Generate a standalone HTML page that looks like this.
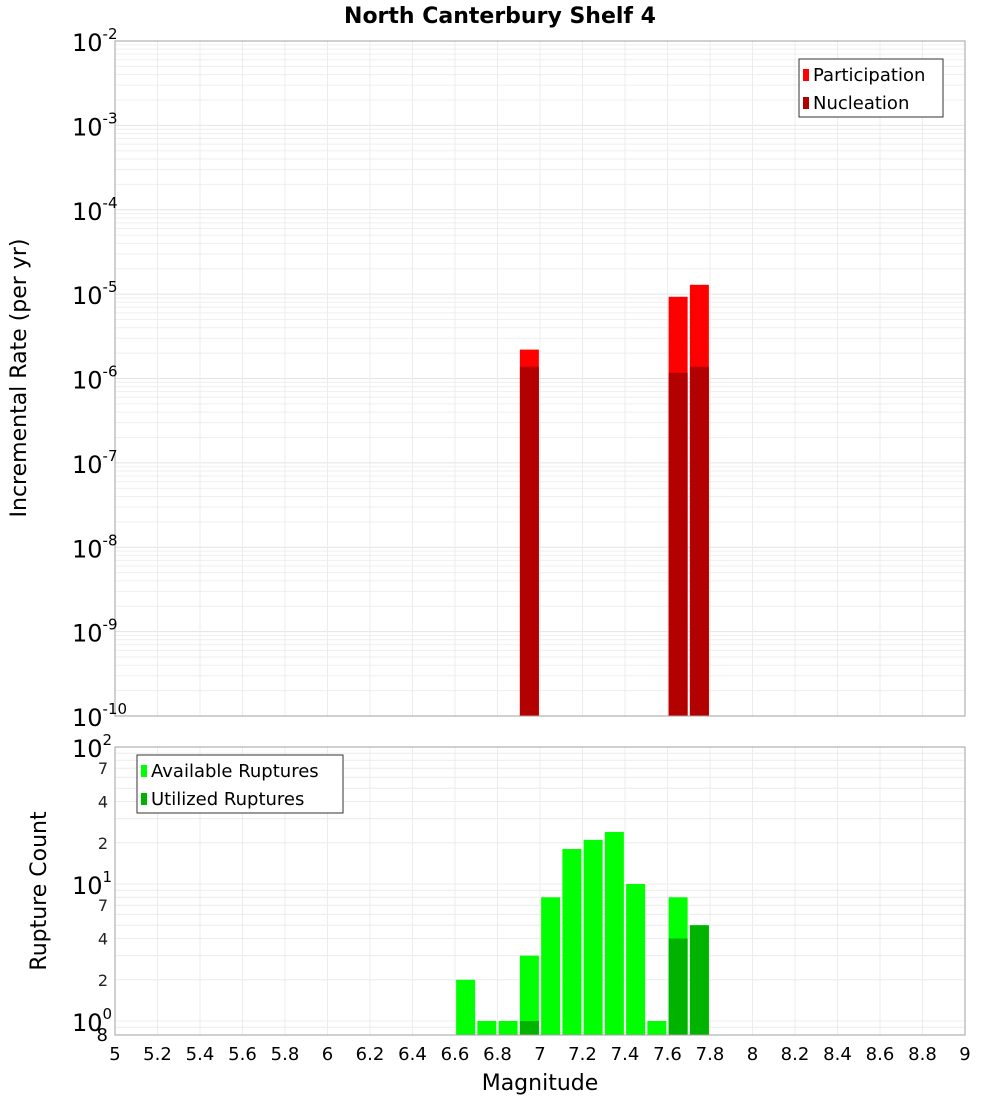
<!DOCTYPE html>
<html><head><meta charset="utf-8"><style>
body{margin:0;background:#fff;width:1000px;height:1100px;overflow:hidden;font-family:"Liberation Sans","DejaVu Sans",sans-serif}
svg text{font-family:"DejaVu Sans","Liberation Sans",sans-serif}
</style></head><body>
<svg id="c" width="1000" height="1100" xmlns="http://www.w3.org/2000/svg"></svg>
<script>
const mags=[6.65,6.75,6.85,6.95,7.05,7.15,7.25,7.35,7.45,7.55,7.65,7.75];
const rateMags=[6.95,7.65,7.75];
const participation=[2.2e-6,9.3e-6,1.29e-5];
const nucleation=[1.38e-6,1.17e-6,1.38e-6];
const available=[2,1,1,3,8,18,21,24,10,1,8,5];
const utilized=[0,0,0,1,0,0,0,0,0,0,4,5];
const xTicks=[5,5.2,5.4,5.6,5.8,6,6.2,6.4,6.6,6.8,7,7.2,7.4,7.6,7.8,8,8.2,8.4,8.6,8.8,9];
const topExps=[-2,-3,-4,-5,-6,-7,-8,-9,-10];
const botMinor=[2,4,7];

const S=document.getElementById('c'),NS='http://www.w3.org/2000/svg';
function el(t,a,txt){const e=document.createElementNS(NS,t);for(const k in a)e.setAttribute(k,a[k]);if(txt!==undefined)e.textContent=txt;S.appendChild(e);return e;}
const X0=115,X1=965;
const xs=m=>X0+(m-5)/4*(X1-X0);
const T0=41,T1=716;
const yT=v=>T0+(-2-Math.log10(v))/8*(T1-T0);
const B0=747,B1=1035,BD=137;
const yB=v=>B0+(2-Math.log10(v))*BD;
const bw=19;

// frames bg
let r=el('rect',{x:X0,y:T0,width:X1-X0,height:T1-T0,fill:'#fff',stroke:'none'});

// top grid
for(let e=-10;e<-2;e++){for(let k=1;k<10;k++){const y=yT(k*Math.pow(10,e));const g=el('line',{x1:X0,x2:X1,y1:y,y2:y,stroke:k==1?'#e4e4e4':'#efefef','stroke-width':1});}}
for(let k=1;k<10;k++){const y=yB(k);const g=el('line',{x1:X0,x2:X1,y1:y,y2:y,stroke:'#ececec'});}
for(let k=1;k<10;k++){const y=yB(k*10);const g=el('line',{x1:X0,x2:X1,y1:y,y2:y,stroke:'#ececec'});}
{const y=yB(0.9);const g=el('line',{x1:X0,x2:X1,y1:y,y2:y,stroke:'#ececec'});}
xTicks.forEach(t=>{const x=xs(t);
 let g=el('line',{x1:x,x2:x,y1:T0,y2:T1,stroke:'#ececec'});
 g=el('line',{x1:x,x2:x,y1:B0,y2:B1,stroke:'#ececec'});});

// top bars
rateMags.forEach((m,i)=>{
 let b=el('rect',{x:xs(m)-bw/2,y:yT(participation[i]),width:bw,height:T1-yT(participation[i]),fill:'#ff0000'});
 
 b=el('rect',{x:xs(m)-bw/2,y:yT(nucleation[i]),width:bw,height:T1-yT(nucleation[i]),fill:'#b30000'});
 
});
// bottom bars
mags.forEach((m,i)=>{
 if(available[i]>0){let b=el('rect',{x:xs(m)-bw/2,y:yB(available[i]),width:bw,height:B1-yB(available[i]),fill:'#00ff00'});
 }
 if(utilized[i]>0){let b=el('rect',{x:xs(m)-bw/2,y:yB(utilized[i]),width:bw,height:B1-yB(utilized[i]),fill:'#00b300'});
 }
});
// frames
r=el('rect',{x:X0,y:T0,width:X1-X0,height:T1-T0,fill:'none',stroke:'#a0a0a0'});
r=el('rect',{x:X0,y:B0,width:X1-X0,height:B1-B0,fill:'none',stroke:'#a0a0a0'});

// title
let t=el('text',{x:500,y:23,'text-anchor':'middle','font-size':22,'font-weight':'bold'},'North Canterbury Shelf 4');
// top y ticks
topExps.forEach(e=>{const y=yT(Math.pow(10,e));
 const g=el('text',{x:72,y:y+10,'font-size':24});
 const a=document.createElementNS(NS,'tspan');a.textContent='10';g.appendChild(a);
 const b=document.createElementNS(NS,'tspan');b.setAttribute('font-size','15');b.setAttribute('dy','-12');b.textContent=String(e);g.appendChild(b);});
// bottom y ticks
[[100,'2'],[10,'1'],[1,'0']].forEach(([v,e])=>{const y=yB(v);
 const g=el('text',{x:72,y:y+10,'font-size':24});
 const a=document.createElementNS(NS,'tspan');a.textContent='10';g.appendChild(a);
 const b=document.createElementNS(NS,'tspan');b.setAttribute('font-size','15');b.setAttribute('dy','-12');b.textContent=e;g.appendChild(b);});
[1,10].forEach(d=>botMinor.forEach(k=>{const y=yB(k*d);
 const g=el('text',{x:108,y:y+6,'font-size':16,'text-anchor':'end',fill:'#222'},String(k));}));
t=el('text',{x:108,y:1041,'font-size':18,'text-anchor':'end'},'8');
// x ticks
xTicks.forEach(v=>{const g=el('text',{x:xs(v),y:1060,'font-size':18,'text-anchor':'middle'},String(v));});
t=el('text',{x:540,y:1090,'font-size':22,'text-anchor':'middle'},'Magnitude');
t=el('text',{x:0,y:0,'font-size':22,'text-anchor':'middle',transform:'translate(26,378) rotate(-90)'},'Incremental Rate (per yr)');
t=el('text',{x:0,y:0,'font-size':22,'text-anchor':'middle',transform:'translate(46,891) rotate(-90)'},'Rupture Count');
// legends
function legend(x,y,w,items,name){
 const b=el('rect',{x:x,y:y,width:w,height:58,fill:'#fff',stroke:'#333'});
 items.forEach(([c,l],i)=>{
  const s=el('rect',{x:x+4,y:y+10+i*28,width:6,height:12,fill:c});
  const tx=el('text',{x:x+14,y:y+22+i*28,'font-size':18},l);});
}
legend(799,59,144,[['#ff0000','Participation'],['#b30000','Nucleation']],'top-legend');
legend(137,755,206,[['#00ff00','Available Ruptures'],['#00b300','Utilized Ruptures']],'bottom-legend');
</script>
</body></html>
